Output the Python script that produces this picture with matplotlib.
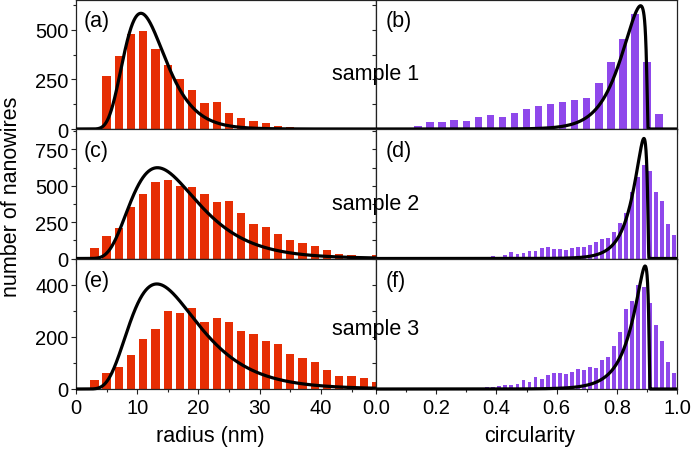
import numpy as np
import matplotlib
matplotlib.use("Agg")
import matplotlib.pyplot as plt
from matplotlib.ticker import MultipleLocator, NullFormatter

plt.rcParams['font.family'] = ['Liberation Sans', 'DejaVu Sans']

# ---------------- data ----------------
# radius histograms (nm), 2 nm bins
radius_centers_a = np.arange(5, 37, 2)
counts_a = [267, 367, 478, 495, 403, 320, 253, 195, 130, 137, 82, 57, 40, 32, 15, 10]
radius_centers_ce = np.arange(3, 51, 2)
counts_c = [69, 156, 213, 351, 440, 523, 541, 500, 489, 443, 385, 392, 312, 239, 216,
            165, 124, 108, 83, 55, 32, 25, 11, 21]
counts_e = [36, 63, 85, 129, 192, 229, 299, 292, 310, 256, 273, 259, 223, 210, 186,
            173, 133, 118, 103, 74, 50, 49, 42, 28]

# circularity histograms
circ_centers_b = np.round(np.arange(0.14, 0.95, 0.04), 2)
counts_b = [13, 35, 35, 44, 40, 60, 72, 62, 81, 102, 117, 126, 138, 144, 154, 233, 337,
            453, 579, 337, 77]
circ_centers_d = np.round(np.arange(0.37, 1.0, 0.02), 2)
counts_d = [5, 18, 11, 27, 44, 32, 39, 50, 50, 69, 76, 62, 62, 55, 73, 82, 82, 94, 115,
            137, 144, 181, 245, 316, 458, 561, 641, 602, 458, 396, 240, 160]
circ_centers_f = np.round(np.arange(0.35, 1.0, 0.02), 2)
counts_f = [4, 6, 8, 10, 14, 14, 19, 35, 28, 45, 38, 54, 62, 60, 59, 67, 77, 73, 85, 79,
            113, 124, 164, 218, 308, 337, 401, 391, 331, 247, 183, 103, 62]

# log-normal fit parameters for radius (peak height, mode, log-width)
fit_amp_radius = [583, 624, 404]
fit_mode_radius = [10.6, 13.3, 13.2]
fit_sigma_radius = [0.32, 0.41, 0.42]
# reflected skewed log-normal fits for circularity
# (peak height, cut-off, distance of mode from cut-off, log-width, quartic tail term)
fit_amp_circ = [621, 825, 473]
fit_edge_circ = [0.906, 0.908, 0.911]
fit_mode_circ = [0.027, 0.018, 0.017]
fit_sigma_circ = [1.44, 1.08, 1.25]
fit_tail_circ = [0.080, 0.046, 0.036]

panel_labels_left = ['(a)', '(c)', '(e)']
panel_labels_right = ['(b)', '(d)', '(f)']
sample_labels = ['sample 1', 'sample 2', 'sample 3']
row_ymax = [650, 890, 500]
row_major = [250, 250, 200]
row_minor = [125, 125, 100]

RED = '#E62E04'
PURPLE = '#8F48EB'

# ---------------- layout ----------------
W, H = 692, 452
fig = plt.figure(figsize=(W / 100, H / 100), dpi=100)


def px_rect(x0, y0, x1, y1):
    return [x0 / W, 1 - y1 / H, (x1 - x0) / W, (y1 - y0) / H]


row_tops = [1, 130, 260]
row_bots = [130, 259.5, 390]
xL, xM, xR = 76, 376, 677


def peak_curve(t, amp, mode, sigma, tail=0.0):
    out = np.zeros_like(t)
    m = t > 0
    L = np.log(t[m] / mode)
    out[m] = amp * np.exp(-L ** 2 / (2 * sigma ** 2) - tail * L ** 4)
    return out


left_centers = [radius_centers_a, radius_centers_ce, radius_centers_ce]
left_counts = [counts_a, counts_c, counts_e]
right_centers = [circ_centers_b, circ_centers_d, circ_centers_f]
right_counts = [counts_b, counts_d, counts_f]
right_widths = [0.025, 0.013, 0.013]

fs_tick = 14.5
for r in range(3):
    axl = fig.add_axes(px_rect(xL, row_tops[r], xM, row_bots[r]))
    axr = fig.add_axes(px_rect(xM, row_tops[r], xR, row_bots[r]))

    # left: radius
    axl.bar(left_centers[r], left_counts[r], width=1.35, color=RED, linewidth=0, zorder=2)
    xx = np.linspace(0.0, 49, 1200)
    axl.plot(xx, peak_curve(xx, fit_amp_radius[r], fit_mode_radius[r], fit_sigma_radius[r]),
             color='black', lw=2.3, zorder=3, clip_on=False, solid_capstyle='butt')
    axl.set_xlim(0, 49)

    # right: circularity
    axr.bar(right_centers[r], right_counts[r], width=right_widths[r], color=PURPLE,
            linewidth=0, zorder=2)
    cc = np.linspace(0.0, 1.0, 3000)
    axr.plot(cc, peak_curve(fit_edge_circ[r] - cc, fit_amp_circ[r], fit_mode_circ[r],
                            fit_sigma_circ[r], fit_tail_circ[r]),
             color='black', lw=2.3, zorder=3, clip_on=False, solid_capstyle='butt')
    axr.set_xlim(0, 1.0)

    for ax in (axl, axr):
        ax.set_ylim(0, row_ymax[r])
        ax.yaxis.set_major_locator(MultipleLocator(row_major[r]))
        ax.yaxis.set_minor_locator(MultipleLocator(row_minor[r]))
        for s in ax.spines.values():
            s.set_linewidth(0.9)
            s.set_color('#222222')
        ax.tick_params(axis='both', which='major', labelsize=fs_tick, width=0.8,
                       length=3.8, direction='out', pad=2, color='#222222')
        ax.tick_params(axis='both', which='minor', width=0.8, length=2.2,
                       direction='out', color='#222222')
        ax.tick_params(axis='x', which='both', top=False)
        ax.tick_params(axis='y', which='both', right=False)

    axl.xaxis.set_major_locator(MultipleLocator(10))
    axl.xaxis.set_minor_locator(MultipleLocator(5))
    axr.xaxis.set_major_locator(MultipleLocator(0.2))
    axr.xaxis.set_minor_locator(MultipleLocator(0.1))
    axr.yaxis.set_major_formatter(NullFormatter())
    axr.tick_params(axis='y', which='both', length=3, labelleft=False)
    axl.tick_params(axis='y', which='major', pad=1.5)

    if r < 2:
        axl.tick_params(axis='x', labelbottom=False)
        axr.tick_params(axis='x', labelbottom=False)
    else:
        axl.set_xticks([0, 10, 20, 30, 40])
        axl.set_xticklabels(['0', '10', '20', '30', '40'])
        axr.set_xticks([0, 0.2, 0.4, 0.6, 0.8, 1.0])
        axr.set_xticklabels(['0.0', '0.2', '0.4', '0.6', '0.8', '1.0'])
        axl.tick_params(axis='x', pad=3)
        axr.tick_params(axis='x', pad=3)

    # panel labels
    ytxt = row_tops[r] + 21
    fig.text((xL + 8) / W, 1 - ytxt / H, panel_labels_left[r], fontsize=15.5,
             ha='left', va='center')
    fig.text((xM + 10) / W, 1 - ytxt / H, panel_labels_right[r], fontsize=15.5,
             ha='left', va='center')

# sample labels
for yb, lab in zip([80, 210, 335], sample_labels):
    fig.text(376 / W, 1 - yb / H, lab, fontsize=15.5, ha='center', va='baseline')

# axis labels
fig.text(210 / W, 1 - 437 / H, 'radius (nm)', fontsize=15.5, ha='center', va='center')
fig.text(530 / W, 1 - 437 / H, 'circularity', fontsize=15.5, ha='center', va='center')
fig.text(12 / W, 1 - 197 / H, 'number of nanowires', fontsize=15.5, ha='center',
         va='center', rotation=90)

fig.savefig('out.png', dpi=100)
